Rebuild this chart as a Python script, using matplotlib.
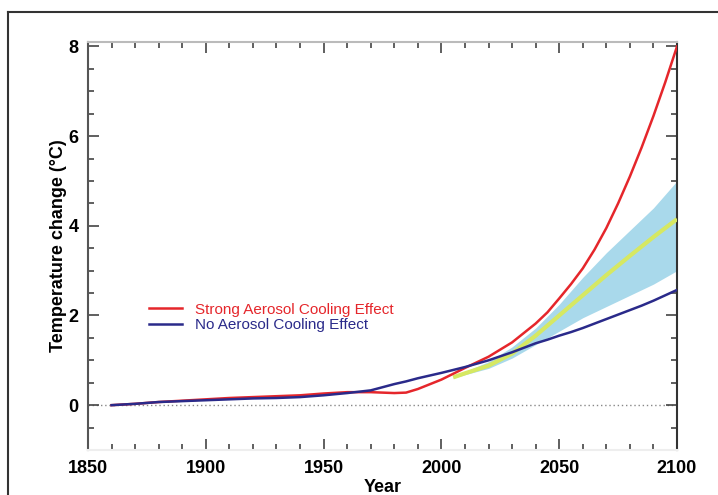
import matplotlib
matplotlib.use('Agg')
import matplotlib.pyplot as plt
import matplotlib.ticker
from matplotlib.lines import Line2D
import numpy as np

plt.rcParams['font.family'] = ['Liberation Sans', 'DejaVu Sans']

# series
years = [1860, 1870, 1880, 1890, 1900, 1910, 1920, 1930, 1940, 1950, 1960,
         1970, 1980, 1985, 1990, 2000, 2010, 2020, 2030, 2040, 2045, 2050,
         2055, 2060, 2065, 2070, 2075, 2080, 2085, 2090, 2095, 2100]
strong_aerosol = [0.0, 0.03, 0.07, 0.10, 0.13, 0.16, 0.18, 0.20, 0.22, 0.26,
                  0.29, 0.29, 0.27, 0.28, 0.36, 0.57, 0.83, 1.08, 1.40, 1.82,
                  2.07, 2.38, 2.70, 3.05, 3.47, 3.95, 4.50, 5.10, 5.75,
                  6.45, 7.20, 8.0]
no_aerosol = [0.0, 0.03, 0.07, 0.09, 0.11, 0.13, 0.15, 0.16, 0.18, 0.22,
              0.27, 0.33, 0.47, 0.53, 0.60, 0.72, 0.85, 1.0, 1.18, 1.38,
              1.46, 1.55, 1.63, 1.72, 1.82, 1.92, 2.02, 2.12, 2.22, 2.33,
              2.45, 2.57]

band_years = [2005, 2010, 2020, 2030, 2040, 2050, 2060, 2070, 2080, 2090, 2100]
band_low = [0.60, 0.68, 0.82, 1.05, 1.35, 1.65, 1.95, 2.2, 2.45, 2.7, 3.0]
band_mid = [0.62, 0.71, 0.88, 1.15, 1.55, 2.0, 2.45, 2.9, 3.33, 3.75, 4.15]
band_high = [0.65, 0.75, 0.97, 1.3, 1.72, 2.25, 2.85, 3.4, 3.9, 4.4, 5.0]

labels = ['Strong Aerosol Cooling Effect', 'No Aerosol Cooling Effect']
RED = '#e5262b'
BLUE = '#2a2a8a'

fig = plt.figure(figsize=(7.18, 4.95), dpi=100)
ax = fig.add_axes([88 / 718, 45 / 495, (677 - 88) / 718, (453 - 45) / 495])

ax.axhline(0, color='#888888', lw=1.0, ls=(0, (1, 2)), zorder=1)
ax.fill_between(band_years, band_low, band_high, color='#a9d9eb',
                lw=0, zorder=2)
ax.plot(band_years, band_mid, color='#d6e862', lw=3, zorder=3,
        solid_capstyle='butt')
red_line, = ax.plot(years, strong_aerosol, color=RED, lw=1.8, zorder=4)
blue_line, = ax.plot(years, no_aerosol, color=BLUE, lw=1.8, zorder=4)

ax.set_xlim(1850, 2100)
ax.set_ylim(-1, 8.1)
ax.xaxis.set_major_locator(matplotlib.ticker.MultipleLocator(50))
ax.xaxis.set_minor_locator(matplotlib.ticker.MultipleLocator(10))
ax.yaxis.set_major_locator(matplotlib.ticker.MultipleLocator(2))
ax.yaxis.set_minor_locator(matplotlib.ticker.MultipleLocator(0.5))
ax.tick_params(which='both', direction='in', top=True, right=True,
               color='#444444')
ax.tick_params(which='major', length=8, width=1.2, labelsize=13, pad=7)
ax.tick_params(which='minor', length=4, width=1.2)
for lab in ax.get_xticklabels() + ax.get_yticklabels():
    lab.set_fontweight('bold')

ax.spines['left'].set_color('#555555')
ax.spines['right'].set_color('#333333')
ax.spines['top'].set_color('#bbbbbb')
ax.spines['bottom'].set_color('#eeeeee')
for s in ax.spines.values():
    s.set_linewidth(1.5)

ax.set_xlabel('Year', fontsize=13, fontweight='bold', labelpad=2)
ax.set_ylabel('Temperature change (°C)', fontsize=13, fontweight='bold',
              labelpad=1)

leg = ax.legend([red_line, blue_line], labels, loc='upper left',
                bbox_to_anchor=(0.08, 0.395), frameon=False, fontsize=11,
                handlelength=2.2, handletextpad=0.8, labelspacing=0.1)
for txt, col in zip(leg.get_texts(), [RED, BLUE]):
    txt.set_color(col)

# outer frame of the figure panel
fig.add_artist(Line2D([8 / 718, 1.0], [1 - 12 / 495, 1 - 12 / 495],
                      transform=fig.transFigure, color='#333333', lw=1.5))
fig.add_artist(Line2D([8 / 718, 8 / 718], [0.0, 1 - 12 / 495],
                      transform=fig.transFigure, color='#333333', lw=1.5))

fig.savefig('out.png', dpi=100)
